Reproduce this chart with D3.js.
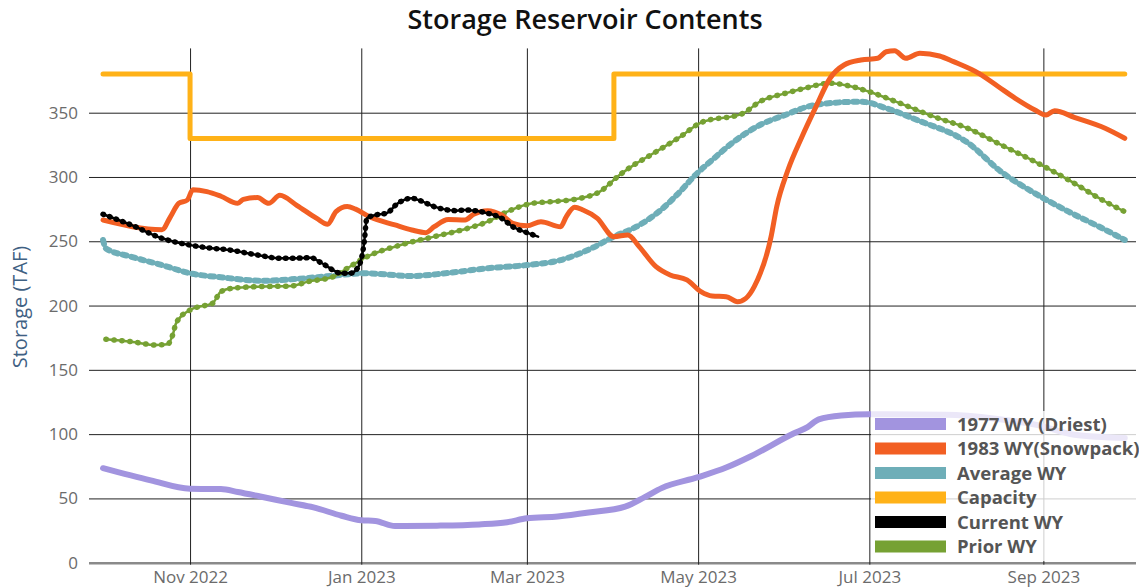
<!DOCTYPE html>
<html>
<head>
<meta charset="utf-8">
<script src="https://cdn.jsdelivr.net/npm/d3@7"></script>
<style>
    body { margin: 0; background: #fff; }
    svg { display: block; font-family: "Open Sans", sans-serif; }
</style>
</head>
<body>
<div id="chart"></div>
<script>
// DATA //
const xTickDates = ["2022-11-01", "2023-01-01", "2023-03-01", "2023-05-01", "2023-07-01", "2023-09-01"]
const yTickValues = [0, 50, 100, 150, 200, 250, 300, 350]

const legendNames = ["1977 WY (Driest)", "1983 WY(Snowpack)", "Average WY", "Capacity", "Current WY", "Prior WY"]

const wy1977 = [
    ["2022-10-01", 73.5], ["2022-10-18", 64], ["2022-11-01", 57.5], ["2022-11-12", 57.3],
    ["2022-11-18", 55], ["2022-11-26", 51.5], ["2022-12-07", 46.5], ["2022-12-15", 43],
    ["2022-12-25", 36.5], ["2023-01-01", 33], ["2023-01-06", 32.5], ["2023-01-13", 28.5],
    ["2023-01-28", 28.8], ["2023-02-12", 29.8], ["2023-02-22", 31.5], ["2023-03-01", 34.5],
    ["2023-03-12", 36], ["2023-03-23", 39], ["2023-04-05", 43.6], ["2023-04-12", 51],
    ["2023-04-18", 58], ["2023-05-01", 66.5], ["2023-05-11", 74], ["2023-05-20", 83],
    ["2023-06-04", 100.5], ["2023-06-09", 105.5], ["2023-06-13", 111.5], ["2023-06-21", 114.5],
    ["2023-07-01", 115.4], ["2023-07-28", 115], ["2023-08-15", 112], ["2023-08-30", 107],
    ["2023-09-12", 99.5], ["2023-09-30", 97]
]

const wy1983 = [
    ["2022-10-01", 266.5], ["2022-10-22", 259], ["2022-10-25", 269], ["2022-10-28", 279.5],
    ["2022-10-31", 282], ["2022-11-02", 290], ["2022-11-07", 288.6], ["2022-11-12", 285],
    ["2022-11-18", 279.5], ["2022-11-20", 282.6], ["2022-11-25", 284], ["2022-11-29", 279.5],
    ["2022-12-03", 285.7], ["2022-12-09", 278], ["2022-12-16", 268], ["2022-12-20", 263.2],
    ["2022-12-23", 273], ["2022-12-27", 277], ["2022-12-30", 275], ["2023-01-04", 269],
    ["2023-01-13", 262.7], ["2023-01-19", 258.8], ["2023-01-24", 256.7], ["2023-01-27", 261.3],
    ["2023-02-01", 267], ["2023-02-07", 266.5], ["2023-02-10", 271], ["2023-02-15", 273.8],
    ["2023-02-20", 270.4], ["2023-02-24", 264], ["2023-03-01", 262], ["2023-03-06", 265.2],
    ["2023-03-13", 261.3], ["2023-03-15", 269], ["2023-03-18", 276.4], ["2023-03-21", 274.3],
    ["2023-03-26", 268], ["2023-04-01", 253.6], ["2023-04-06", 254.9], ["2023-04-10", 245.8],
    ["2023-04-16", 230.2], ["2023-04-21", 223.8], ["2023-04-27", 219.9], ["2023-05-02", 210.8],
    ["2023-05-06", 207.4], ["2023-05-11", 206.9], ["2023-05-15", 203], ["2023-05-18", 205.6],
    ["2023-05-21", 214.7], ["2023-05-27", 253.6], ["2023-05-29", 276.9], ["2023-06-02", 305.4],
    ["2023-06-07", 331.3], ["2023-06-12", 354.7], ["2023-06-17", 376.8], ["2023-06-22", 387.1],
    ["2023-06-28", 391], ["2023-07-04", 392.3], ["2023-07-07", 397.4], ["2023-07-10", 398.2],
    ["2023-07-14", 392.3], ["2023-07-19", 396.2], ["2023-07-26", 394.1], ["2023-07-31", 389.7],
    ["2023-08-09", 380.6], ["2023-08-16", 370.2], ["2023-08-22", 361.2], ["2023-08-29", 352.1],
    ["2023-09-02", 348.2], ["2023-09-05", 351.6], ["2023-09-12", 346.4], ["2023-09-23", 337.9],
    ["2023-09-30", 330.1]
]

const averageWY = [
    ["2022-10-01", 251], ["2022-10-02", 244.5], ["2022-10-11", 238], ["2022-10-22", 231.5],
    ["2022-11-01", 225.1], ["2022-11-12", 222], ["2022-11-27", 219.3], ["2022-12-09", 220.7],
    ["2022-12-21", 223], ["2023-01-02", 225.1], ["2023-01-19", 223], ["2023-01-31", 225.1],
    ["2023-02-15", 229], ["2023-03-01", 231.5], ["2023-03-13", 235.4], ["2023-03-24", 244.5],
    ["2023-04-01", 253.6], ["2023-04-09", 261.3], ["2023-04-17", 273], ["2023-04-24", 287.3],
    ["2023-04-30", 301.5], ["2023-05-06", 313.2], ["2023-05-13", 326.2], ["2023-05-23", 340.4],
    ["2023-06-01", 348.2], ["2023-06-09", 354.7], ["2023-06-19", 357.8], ["2023-06-28", 358.6],
    ["2023-07-07", 353.5], ["2023-07-18", 344.3], ["2023-08-05", 326.7], ["2023-08-17", 304],
    ["2023-08-29", 287.3], ["2023-09-10", 273], ["2023-09-22", 260.1], ["2023-09-30", 251]
]

const capacity = [
    ["2022-10-01", 380], ["2022-11-01", 330], ["2023-04-01", 380], ["2023-09-30", 380]
]

const currentWY = [
    ["2022-10-01", 271], ["2022-10-11", 262.7], ["2022-10-22", 252.3], ["2022-11-01", 247],
    ["2022-11-07", 245], ["2022-11-15", 243.2], ["2022-11-25", 239.3], ["2022-12-03", 236.8],
    ["2022-12-08", 236.8], ["2022-12-14", 237.2], ["2022-12-18", 232.9], ["2022-12-25", 225.1],
    ["2022-12-28", 225.1], ["2022-12-31", 230.2], ["2023-01-02", 248.4], ["2023-01-03", 267.9],
    ["2023-01-06", 270.4], ["2023-01-10", 271.8], ["2023-01-14", 279.5], ["2023-01-19", 283.4],
    ["2023-01-22", 281.6], ["2023-01-27", 276.9], ["2023-02-04", 273.8], ["2023-02-07", 274.3],
    ["2023-02-15", 271.8], ["2023-02-20", 267.9], ["2023-02-24", 261.3], ["2023-03-01", 256.7],
    ["2023-03-05", 253.6]
]

const priorWY = [
    ["2022-10-02", 173.8], ["2022-10-11", 171.9], ["2022-10-20", 169.3], ["2022-10-24", 169.9],
    ["2022-10-26", 178.4], ["2022-10-27", 186.2], ["2022-11-01", 196.5], ["2022-11-07", 200.4],
    ["2022-11-09", 201.7], ["2022-11-12", 210.8], ["2022-11-16", 213.4], ["2022-11-25", 214.7],
    ["2022-12-07", 215.2], ["2022-12-13", 218.6], ["2022-12-22", 222.4], ["2022-12-27", 229],
    ["2023-01-03", 238], ["2023-01-15", 247.1], ["2023-01-27", 253.6], ["2023-02-08", 260.1],
    ["2023-02-15", 265.2], ["2023-02-22", 273], ["2023-03-03", 279.5], ["2023-03-10", 280.8],
    ["2023-03-20", 283.4], ["2023-03-27", 288.6], ["2023-04-03", 301.5], ["2023-04-09", 310.6],
    ["2023-04-14", 317], ["2023-04-25", 331.8], ["2023-05-02", 342.3], ["2023-05-17", 349.5],
    ["2023-05-23", 358.6], ["2023-06-01", 365], ["2023-06-08", 369], ["2023-06-17", 372.9],
    ["2023-06-25", 370.2], ["2023-07-01", 366.3], ["2023-07-12", 357.3], ["2023-07-24", 346.9],
    ["2023-08-05", 337.9], ["2023-08-17", 324.9], ["2023-08-29", 311.9], ["2023-09-10", 297.7],
    ["2023-09-22", 282.1], ["2023-09-30", 273]
]

// GLOBAL VARIABLES //
let dimensions = {
    width: 1139,
    height: 588,
    margin: {
        top: 48.4,
        right: 3,
        bottom: 25.3,
        left: 89,
    },
}
dimensions.boundedWidth = dimensions.width - dimensions.margin.left - dimensions.margin.right
dimensions.boundedHeight = dimensions.height - dimensions.margin.top - dimensions.margin.bottom

const parseDate = d3.timeParse("%Y-%m-%d")
const xAccessor = d => parseDate(d[0])
const yAccessor = d => d[1]

const colors = {
    wy1977: "#a294df",
    wy1983: "#f25f23",
    average: "#6eaeb8",
    capacity: "#ffb218",
    current: "#000000",
    prior: "#76a133",
}

const xScale = d3.scaleTime()
    .domain([parseDate("2022-09-26"), parseDate("2023-10-04")])
    .range([0, dimensions.boundedWidth])

const yScale = d3.scaleLinear()
    .domain([0, 400])
    .range([dimensions.boundedHeight, 0])

// DRAW //
const svg = d3.select("#chart")
    .append("svg")
    .attr("width", dimensions.width)
    .attr("height", dimensions.height)

svg.append("text")
    .attr("x", 585)
    .attr("y", 29)
    .attr("text-anchor", "middle")
    .attr("fill", "#111")
    .style("font-size", "27px")
    .style("font-weight", 600)
    .text("Storage Reservoir Contents")

svg.append("text")
    .attr("transform", "translate(27, 307) rotate(-90)")
    .attr("text-anchor", "middle")
    .attr("fill", "#3f6183")
    .style("font-size", "20px")
    .text("Storage (TAF)")

const bounds = svg.append("g")
    .attr("transform", `translate(${dimensions.margin.left}, ${dimensions.margin.top})`)

// grid + axes
const yAxisGenerator = d3.axisLeft(yScale)
    .tickValues(yTickValues)
    .tickSize(-dimensions.boundedWidth)
    .tickPadding(11)

const yAxis = bounds.append("g").call(yAxisGenerator)
yAxis.select(".domain").remove()
yAxis.selectAll(".tick line").attr("stroke", "#222").attr("stroke-width", 1)
yAxis.selectAll(".tick text")
    .attr("fill", "#6b6b6b")
    .style("font-size", "17px")
    .style("font-family", "'Open Sans', sans-serif")
yAxis.selectAll(".tick").filter(d => d == 0).select("line")
    .attr("stroke", "#8a8a8a").attr("stroke-width", 2.5)

const xAxisGenerator = d3.axisBottom(xScale)
    .tickValues(xTickDates.map(parseDate))
    .tickFormat(d3.timeFormat("%b %Y"))
    .tickSize(-dimensions.boundedHeight - 2)
    .tickPadding(6)

const xAxis = bounds.append("g")
    .attr("transform", `translate(0, ${dimensions.boundedHeight + 2})`)
    .call(xAxisGenerator)
xAxis.select(".domain").remove()
xAxis.selectAll(".tick line").attr("stroke", "#222").attr("stroke-width", 1)
xAxis.selectAll(".tick text")
    .attr("fill", "#6b6b6b")
    .attr("dy", "0.7em")
    .style("font-size", "17px")
    .style("font-family", "'Open Sans', sans-serif")

// lines
const lineGenerator = d3.line()
    .x(d => xScale(xAccessor(d)))
    .y(d => yScale(yAccessor(d)))
    .curve(d3.curveMonotoneX)

const stepGenerator = d3.line()
    .x(d => xScale(xAccessor(d)))
    .y(d => yScale(yAccessor(d)))
    .curve(d3.curveStepAfter)

const lines = bounds.append("g")
    .attr("fill", "none")
    .attr("stroke-linecap", "round")
    .attr("stroke-linejoin", "round")

lines.append("path")
    .attr("d", stepGenerator(capacity))
    .attr("stroke", colors.capacity)
    .attr("stroke-width", 5)

// average - beaded dashes
lines.append("path")
    .attr("d", lineGenerator(averageWY))
    .attr("stroke", colors.average)
    .attr("stroke-width", 2.5)
lines.append("path")
    .attr("d", lineGenerator(averageWY))
    .attr("stroke", colors.average)
    .attr("stroke-width", 6)
    .attr("stroke-dasharray", "4 5")

// prior - dotted
lines.append("path")
    .attr("d", lineGenerator(priorWY))
    .attr("stroke", colors.prior)
    .attr("stroke-width", 2.5)
lines.append("path")
    .attr("d", lineGenerator(priorWY))
    .attr("stroke", colors.prior)
    .attr("stroke-width", 5.5)
    .attr("stroke-dasharray", "0.5 7.5")

lines.append("path")
    .attr("d", lineGenerator(wy1983))
    .attr("stroke", colors.wy1983)
    .attr("stroke-width", 5)

lines.append("path")
    .attr("d", lineGenerator(wy1977))
    .attr("stroke", colors.wy1977)
    .attr("stroke-width", 6)

// current - dotted black
lines.append("path")
    .attr("d", lineGenerator(currentWY))
    .attr("stroke", colors.current)
    .attr("stroke-width", 2.5)
lines.append("path")
    .attr("d", lineGenerator(currentWY))
    .attr("stroke", colors.current)
    .attr("stroke-width", 5.5)
    .attr("stroke-dasharray", "0.5 6.5")

// LEGEND //
const legendColors = [colors.wy1977, colors.wy1983, colors.average, colors.capacity, colors.current, colors.prior]

const legend = svg.append("g")
legend.append("rect")
    .attr("x", 871)
    .attr("y", 411)
    .attr("width", 268)
    .attr("height", 150)
    .attr("fill", "#fff")
    .attr("fill-opacity", 0.78)

const legendItems = legend.selectAll(".item")
    .data(legendNames)
    .join("g")
    .attr("class", "item")
    .attr("transform", (d, i) => `translate(875, ${424 + i * 24.5})`)

legendItems.append("rect")
    .attr("x", 0)
    .attr("y", -6)
    .attr("width", 71)
    .attr("height", 12)
    .attr("fill", (d, i) => legendColors[i])

legendItems.append("text")
    .attr("x", 82)
    .attr("y", 6.5)
    .attr("fill", "#555")
    .style("font-size", "18.5px")
    .style("font-weight", 700)
    .text(d => d)
</script>
</body>
</html>
